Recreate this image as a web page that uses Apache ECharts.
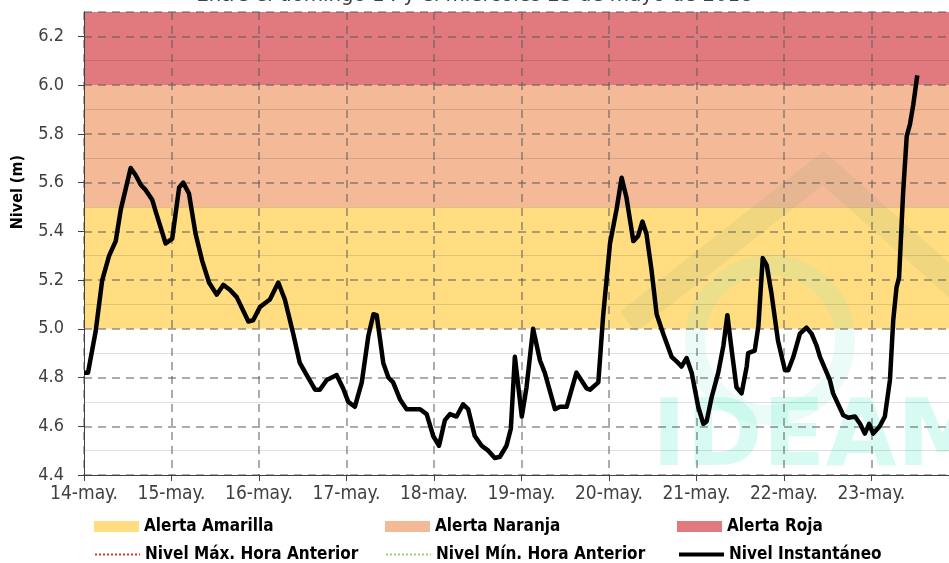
<!DOCTYPE html>
<html>
<head>
<meta charset="utf-8">
<script src="https://cdn.jsdelivr.net/npm/echarts@6/dist/echarts.min.js"></script>
<style>html,body{margin:0;padding:0;background:#fff;}#c{width:949px;height:563px;}</style>
</head>
<body>
<div id="c"></div>
<script>
// hours since 14-may 00:00
const hours = [0,1.1,3.2,5.0,6.9,8.7,10.1,12.8,14.2,15.6,16.9,18.7,19.7,22.4,24.2,26.1,27.2,28.8,30.6,32.4,34.3,36.4,38.2,40.0,41.9,45.1,46.4,48.3,51.0,53.3,55.1,57.4,59.2,61.5,63.4,64.7,66.6,69.3,71.1,72.5,74.3,76.2,78.0,79.4,80.3,82.1,83.5,84.8,86.7,88.5,90.3,92.2,94.0,95.8,97.4,99.0,100.4,102.2,104.0,105.4,107.2,109.1,110.9,112.7,114.1,115.9,117.1,118.2,120.1,121.4,123.2,125.1,126.4,129.2,130.6,132.4,135.1,137.9,138.8,141.1,142.4,144.3,146.1,147.5,148.8,150.7,152.0,153.2,154.3,155.7,157.1,158.9,161.2,163.0,163.9,165.3,166.7,168.5,169.9,170.8,172.2,174.0,175.4,176.5,177.7,179.0,180.4,181.8,182.2,184.0,185.0,186.2,187.3,188.6,190.4,192.3,193.2,194.6,196.4,198.2,199.6,201.0,201.9,204.6,205.5,208.3,209.7,211.5,212.9,214.2,215.4,216.5,218.3,219.7,221.1,222.0,222.9,223.6,224.7,225.7,226.6,227.5,228.6];
const levels = [4.82,4.82,4.99,5.20,5.30,5.36,5.49,5.66,5.63,5.59,5.57,5.53,5.48,5.35,5.37,5.58,5.60,5.555,5.39,5.28,5.19,5.14,5.18,5.16,5.13,5.03,5.035,5.09,5.12,5.19,5.12,4.98,4.86,4.80,4.75,4.75,4.79,4.81,4.755,4.70,4.68,4.78,4.97,5.06,5.056,4.86,4.80,4.78,4.71,4.67,4.67,4.67,4.65,4.56,4.52,4.625,4.65,4.64,4.69,4.67,4.56,4.52,4.50,4.47,4.475,4.52,4.59,4.885,4.64,4.76,5.00,4.87,4.82,4.67,4.68,4.68,4.82,4.755,4.75,4.78,5.05,5.35,5.49,5.62,5.54,5.36,5.38,5.44,5.39,5.24,5.06,4.98,4.885,4.86,4.845,4.88,4.82,4.68,4.61,4.62,4.72,4.82,4.93,5.056,4.91,4.76,4.735,4.845,4.90,4.91,5.01,5.29,5.26,5.145,4.95,4.83,4.83,4.885,4.98,5.005,4.98,4.93,4.885,4.79,4.735,4.645,4.635,4.64,4.61,4.57,4.61,4.57,4.60,4.64,4.79,5.035,5.17,5.21,5.555,5.79,5.84,5.92,6.04];
const maxPrevHour = levels;
const minPrevHour = levels;
const dayLabels = ['14-may.','15-may.','16-may.','17-may.','18-may.','19-may.','20-may.','21-may.','22-may.','23-may.'];
const dayTicks = [0,24,48,72,96,120,144,168,192,216];
const alertBands = [
  {name:'Alerta Amarilla', from:5.0, to:5.5, color:'#FFDD80'},
  {name:'Alerta Naranja', from:5.5, to:6.0, color:'#F4B996'},
  {name:'Alerta Roja', from:6.0, to:6.3, color:'#E07A7E'}
];
const titleText = 'Entre el domingo 14 y el miércoles 23 de mayo de 2018';

const pairs = a => hours.map((h,i)=>[h,a[i]]);
const FONT = 'DejaVu Sans Condensed';

const chart = echarts.init(document.getElementById('c'));
const bandSeries = alertBands.map(b => ({
  name:b.name, type:'line', data:[], z:-1, color:b.color, symbol:'none',
  markArea:{silent:true, z:-1, itemStyle:{color:b.color, opacity:1}, data:[[{yAxis:b.from},{yAxis:b.to}]]}
}));
const legendText = {fontFamily:FONT, fontWeight:'bold', fontSize:17, color:'#000'};
const mkLegend = (name, left, top, icon, w, h, lw) => ({
  data:[icon?{name, icon}:{name}], left, top, padding:0, itemWidth:w, itemHeight:h, itemGap:5,
  textStyle:legendText, selectedMode:false,
  itemStyle: icon ? {} : {opacity:0},
  lineStyle: lw ? {width:lw} : {}
});
chart.setOption({
  animation:false,
  title:{text:titleText, left:'center', top:-21, textStyle:{fontFamily:FONT, fontWeight:'normal', fontSize:22, color:'#404040'}},
  grid:{left:84, top:12, right:0, bottom:88},
  legend:[
    mkLegend('Alerta Amarilla',94,518,'rect',45,11),
    mkLegend('Alerta Naranja',385,518,'rect',45,11),
    mkLegend('Alerta Roja',677,518,'rect',45,11),
    mkLegend('Nivel Máx. Hora Anterior',94,546,null,45,11),
    mkLegend('Nivel Mín. Hora Anterior',385,546,null,45,11),
    mkLegend('Nivel Instantáneo',677,546,null,45,11,4)
  ],
  xAxis:{type:'value', min:0, max:237.3, z:3,
    axisLine:{lineStyle:{color:'#404040', width:1}},
    axisTick:{show:true, length:6, customValues:dayTicks, lineStyle:{color:'#404040'}},
    axisLabel:{fontFamily:FONT, fontSize:19, color:'#404040', margin:10, customValues:dayTicks,
      formatter:v => dayLabels[Math.round(v/24)] || ''},
    splitLine:{show:true, lineStyle:{color:'rgba(90,90,90,0.5)', type:[8,6], width:2}}
  },
  yAxis:{type:'value', min:4.4, max:6.3, interval:0.2, z:3,
    axisLine:{show:true, lineStyle:{color:'#404040', width:1}},
    axisTick:{show:true, length:6, lineStyle:{color:'#404040'}},
    axisLabel:{fontFamily:FONT, fontSize:18, color:'#404040', margin:20, showMaxLabel:false,
      formatter:v=>v.toFixed(1)},
    splitLine:{show:true, lineStyle:{color:'rgba(90,90,90,0.5)', type:[8,6], width:2}},
    minorTick:{show:false, splitNumber:2},
    minorSplitLine:{show:true, lineStyle:{color:'rgba(0,0,0,0.12)', width:1}}
  },
  graphic:[
    {type:'text', left:10, top:155, rotation:Math.PI/2, z:10,
      style:{text:'Nivel (m)', font:'bold 16px "'+FONT+'"', fill:'#000'}},
    {type:'polyline', z:1, silent:true, shape:{points:[[628,322],[823,168],[960,290]]},
      style:{stroke:'rgba(110,160,120,0.10)', lineWidth:26, fill:null}},
    {type:'circle', z:1, silent:true, shape:{cx:770, cy:340, r:75},
      style:{stroke:'rgba(120,235,210,0.15)', lineWidth:20, fill:null}},
    {type:'text', z:1, silent:true, left:652, top:395,
      style:{text:'IDEAM', font:'bold 92px "DejaVu Sans"', fill:'rgba(150,245,220,0.38)'}}
  ],
  series:[
    ...bandSeries,
    {name:'Nivel Máx. Hora Anterior', type:'line', data:pairs(maxPrevHour), symbol:'none', z:4,
      color:'#E03030', lineStyle:{color:'#E03030', width:1, type:'dotted'}},
    {name:'Nivel Mín. Hora Anterior', type:'line', data:pairs(minPrevHour), symbol:'none', z:4,
      color:'#9BD36A', lineStyle:{color:'#9BD36A', width:1, type:'dotted'}},
    {name:'Nivel Instantáneo', type:'line', data:pairs(levels), symbol:'none', z:6,
      color:'#000', lineStyle:{color:'#000', width:4.5, join:'round'}}
  ]
});
</script>
</body>
</html>
